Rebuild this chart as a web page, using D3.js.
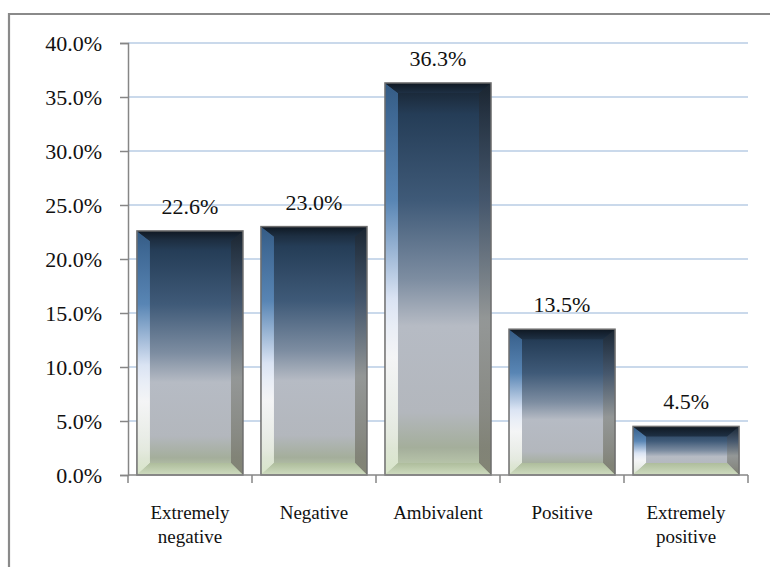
<!DOCTYPE html>
<html><head><meta charset="utf-8">
<script src="https://cdn.jsdelivr.net/npm/d3@7"></script>
<style>body{margin:0;background:#fff}svg{display:block}svg text{font-family:"Liberation Serif","DejaVu Serif",serif !important}</style>
</head><body>
<script>
const categories = [["Extremely","negative"],["Negative"],["Ambivalent"],["Positive"],["Extremely","positive"]];
const values = [22.6, 23.0, 36.3, 13.5, 4.5];
const yTicks = [0,5,10,15,20,25,30,35,40];

const W=770,H=567;
const svg=d3.select("body").append("svg").attr("width",W).attr("height",H);

// frame
svg.append("path").attr("d","M9,567 L9,14 L770,14").attr("fill","none").attr("stroke","#8a8a8a").attr("stroke-width",2.2);

const x=d3.scaleBand().domain(d3.range(categories.length)).range([128,748]).paddingInner(0.145).paddingOuter(0.072);
const xb=d3.scaleBand().domain(d3.range(categories.length)).range([128,748]);
const y=d3.scaleLinear().domain([0,40]).range([475,43]);

const defs=svg.append("defs");
const g1=defs.append("linearGradient").attr("id","main").attr("x1",0).attr("y1",0).attr("x2",0).attr("y2",1);
[[0,"#16212d"],[0.08,"#253d57"],[0.3,"#3f5a78"],[0.5,"#7d8da1"],[0.62,"#b6bbc4"],[0.84,"#b3b7bd"],[0.93,"#a4ae9b"],[1,"#c4d3b3"]].forEach(s=>g1.append("stop").attr("offset",s[0]).attr("stop-color",s[1]));
const gL=defs.append("linearGradient").attr("id","left").attr("x1",0).attr("y1",0).attr("x2",0).attr("y2",1);
[[0,"#3a6593"],[0.3,"#5d8dbf"],[0.55,"#e6efff"],[0.7,"#ffffff"],[0.9,"#eef3e8"],[1,"#dbe8cc"]].forEach(s=>gL.append("stop").attr("offset",s[0]).attr("stop-color",s[1]));
const gR=defs.append("linearGradient").attr("id","right").attr("x1",0).attr("y1",0).attr("x2",0).attr("y2",1);
[[0,"#1b2530"],[0.3,"#46566a"],[0.6,"#8e918f"],[1,"#77776a"]].forEach(s=>gR.append("stop").attr("offset",s[0]).attr("stop-color",s[1]));
const gT=defs.append("linearGradient").attr("id","top").attr("x1",0).attr("y1",0).attr("x2",0).attr("y2",1);
[[0,"#0f1822"],[1,"#1e3044"]].forEach(s=>gT.append("stop").attr("offset",s[0]).attr("stop-color",s[1]));
const gB=defs.append("linearGradient").attr("id","bot").attr("x1",0).attr("y1",0).attr("x2",0).attr("y2",1);
[[0,"#aebd9c"],[1,"#cfdcc0"]].forEach(s=>gB.append("stop").attr("offset",s[0]).attr("stop-color",s[1]));

// gridlines
svg.append("g").selectAll("line").data(yTicks.slice(1)).join("line")
  .attr("x1",128).attr("x2",748).attr("y1",d=>y(d)).attr("y2",d=>y(d))
  .attr("stroke","#b9cde5").attr("stroke-width",1.5);

// bars
const bars=svg.append("g").selectAll("g").data(values).join("g");
bars.each(function(v,i){
  const g=d3.select(this);
  const x0=x(i), x1=x(i)+x.bandwidth(), t=y(v), b=y(0);
  const bl=13, br=12, bt=Math.min(10,(b-t)/3), bbt=Math.min(12,(b-t)/3);
  g.append("rect").attr("x",x0).attr("y",t).attr("width",x1-x0).attr("height",b-t).attr("fill","url(#main)");
  g.append("path").attr("d",`M${x0},${t}L${x0+bl},${t+bt}L${x0+bl},${b-bbt}L${x0},${b}Z`).attr("fill","url(#left)").attr("opacity",0.85);
  g.append("path").attr("d",`M${x1},${t}L${x1-br},${t+bt}L${x1-br},${b-bbt}L${x1},${b}Z`).attr("fill","url(#right)").attr("opacity",0.85);
  g.append("path").attr("d",`M${x0},${t}L${x1},${t}L${x1-br},${t+bt}L${x0+bl},${t+bt}Z`).attr("fill","url(#top)");
  g.append("path").attr("d",`M${x0},${b}L${x1},${b}L${x1-br},${b-bbt}L${x0+bl},${b-bbt}Z`).attr("fill","url(#bot)");
  g.append("rect").attr("x",x0).attr("y",t).attr("width",x1-x0).attr("height",b-t).attr("fill","none").attr("stroke","#6e6e6e").attr("stroke-width",1.5);
  g.append("text").attr("x",(x0+x1)/2).attr("y",t-17).attr("text-anchor","middle")
   .attr("font-size",22).attr("fill","#111").text(v.toFixed(1)+"%");
});

// y axis
const ya=svg.append("g").attr("transform","translate(128,0)")
  .call(d3.axisLeft(y).tickValues(yTicks).tickSize(8).tickPadding(18).tickFormat(d=>d.toFixed(1)+"%"));
ya.select(".domain").attr("stroke","#868686").attr("stroke-width",1.5);
ya.selectAll(".tick line").attr("stroke","#868686").attr("stroke-width",1.5);
ya.selectAll("text").attr("font-size",22).attr("fill","#111");

// x axis
const xa=svg.append("g").attr("transform","translate(0,475)");
xa.append("line").attr("x1",128).attr("x2",748).attr("stroke","#868686").attr("stroke-width",1.5);
xa.selectAll("line.tk").data(d3.range(categories.length+1)).join("line").attr("class","tk")
  .attr("x1",d=>d<categories.length?xb(d):748).attr("x2",d=>d<categories.length?xb(d):748)
  .attr("y1",0).attr("y2",8).attr("stroke","#868686").attr("stroke-width",1.5);
xa.selectAll("text").data(categories).join("text")
  .attr("x",(d,i)=>xb(i)+xb.bandwidth()/2).attr("y",44).attr("text-anchor","middle")
  .attr("font-size",19).attr("fill","#111")
  .each(function(d){
    const t=d3.select(this);
    d.forEach((s,j)=>t.append("tspan").attr("x",t.attr("x")).attr("dy",j?24:0).text(s));
  });
</script>
</body></html>
